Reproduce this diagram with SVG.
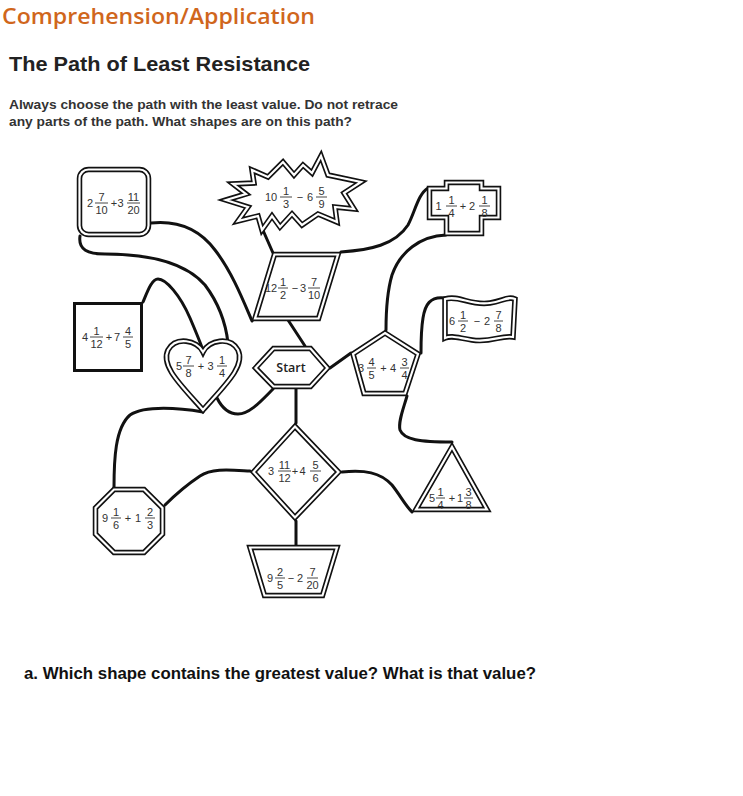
<svg xmlns="http://www.w3.org/2000/svg" xmlns:xlink="http://www.w3.org/1999/xlink" width="743" height="796" viewBox="0 0 743 796">
<style>
.c{fill:none;stroke:#111;stroke-width:3;stroke-linecap:round;stroke-linejoin:round}
.sh{fill:#fff;stroke:#111;stroke-width:5.5;stroke-linejoin:miter;stroke-miterlimit:4}
.sh2{fill:none;stroke:#fff;stroke-width:2.2;stroke-linejoin:miter;stroke-miterlimit:4}
.n{font-family:"Liberation Sans",Arial,sans-serif;font-size:11px;fill:#333;text-anchor:middle}
.b{stroke:#333;stroke-width:0.9}
.h1{font-family:"Open Sans","Noto Sans",sans-serif;font-size:22px;font-weight:600;fill:#d0661c}
.h2{font-family:"Liberation Sans",Arial,sans-serif;font-size:21px;font-weight:bold;fill:#222}
.p{font-family:"Liberation Sans",Arial,sans-serif;font-size:13.5px;font-weight:bold;fill:#333}
.q{font-family:"Liberation Sans",Arial,sans-serif;font-size:16px;font-weight:bold;fill:#111}
.st{font-family:"Open Sans","Liberation Sans",sans-serif;font-size:12.5px;font-weight:600;fill:#222;text-anchor:middle}
</style>
<defs>
<rect id="p-rsq" x="79.5" y="169.5" width="69" height="65" rx="9"/>
<polygon id="p-star" points="226,200 246,194 233,184 254,183 252,170 268,177 283,162 294,175 303,165 312,173 321,156 328,175 361,182 344,193 354,209 335,207 337,222 318,214 302,225 292,214 280,227 272,216 262,230 258,216 238,221 248,207"/>
<polygon id="p-cross" points="446.5,182.5 481.5,182.5 481.5,188.5 498.5,188.5 498.5,217.5 481.5,217.5 481.5,233.5 446.5,233.5 446.5,217.5 429.5,217.5 429.5,188.5 446.5,188.5"/>
<path id="p-flag" d="M445,299 C460,295 470,306 490,303 C503,301 508,296 515,299 L513,337 C500,335 492,343 472,340 C458,338 452,335 445,338 Z"/>
<path id="p-heart" d="M203,352 C197,340 176,336 168,350 C160,366 182,386 203,410 C224,386 246,366 238,350 C230,336 209,340 203,352 Z"/>
<polygon id="p-para" points="274.5,254.5 338,254.5 318.5,318.5 255,318.5"/>
<polygon id="p-hex" points="255.5,368 273.5,348.5 310.5,348.5 327.5,368 310.5,386.5 273.5,386.5"/>
<polygon id="p-pent" points="385,333 418,354 405,393.5 364,393.5 353,354"/>
<polygon id="p-dia" points="295,426.5 338.5,472 295,517.5 253.5,472"/>
<polygon id="p-tri" points="452,447 487,509.5 416,509.5"/>
<polygon id="p-oct" points="114,489.5 144,489.5 162.5,508 162.5,534 144,552.5 114,552.5 95.5,534 95.5,508"/>
<polygon id="p-trap" points="250,547.5 337,547.5 322.5,595.5 264.5,595.5"/>
</defs>
<rect width="743" height="796" fill="#fff"/>
<text class="h1" x="2" y="24" textLength="313" lengthAdjust="spacingAndGlyphs">Comprehension/Application</text>
<text class="h2" x="9" y="71" textLength="301" lengthAdjust="spacingAndGlyphs">The Path of Least Resistance</text>
<text class="p" x="9" y="109" textLength="389" lengthAdjust="spacingAndGlyphs">Always choose the path with the least value. Do not retrace</text>
<text class="p" x="9" y="126" textLength="343" lengthAdjust="spacingAndGlyphs">any parts of the path. What shapes are on this path?</text>
<text class="q" x="24" y="679" textLength="512" lengthAdjust="spacingAndGlyphs">a.  Which shape contains the greatest value? What is that value?</text>

<g id="connectors">
<path class="c" d="M151,223 C180,220 200,230 215,250 C232,272 243,300 252,321"/>
<path class="c" d="M80,236 C78,250 88,254 105,254 C150,254 185,262 205,285 C220,305 226,325 228,343"/>
<path class="c" d="M143,302 C148,290 152,279 158,279 C166,279 180,295 190,318 C196,332 200,342 203,350"/>
<path class="c" d="M262,228 L273,253"/>
<path class="c" d="M341,252 C370,250 395,245 408,225 C415,212 418,194 428,188"/>
<path class="c" d="M288,320 L305,346"/>
<path class="c" d="M330,368 L351,353"/>
<path class="c" d="M446,235 C420,236 400,252 392,275 C387,292 386,312 386,330"/>
<path class="c" d="M445,298 C430,296 425,305 423,318 C421,330 421,342 421,353"/>
<path class="c" d="M407,396 C403,410 398,422 400,430 C404,440 420,442 452,442"/>
<path class="c" d="M342,472 C365,470 380,472 392,485 C400,495 405,505 412,512"/>
<path class="c" d="M296,389 L296,423"/>
<path class="c" d="M217,398 C222,408 228,414 238,414 C250,414 262,400 273,389"/>
<path class="c" d="M203,412 C180,408 145,405 130,415 C115,428 114,460 114,488"/>
<path class="c" d="M250,471 C230,470 212,468 200,476 C185,486 175,495 165,505"/>
<path class="c" d="M296,521 L296,546"/>
</g>

<g id="node-roundsq">
<use xlink:href="#p-rsq" class="sh"/><use xlink:href="#p-rsq" class="sh2"/>
<text class="n" x="90" y="207">2</text><text class="n" x="101.5" y="200.5">7</text><line class="b" x1="95" y1="203" x2="108" y2="203"/><text class="n" x="101.5" y="214">10</text>
<text class="n" x="114" y="207">+</text><text class="n" x="120.5" y="207">3</text>
<text class="n" x="133.5" y="200.5">11</text><line class="b" x1="127" y1="203" x2="140" y2="203"/><text class="n" x="133.5" y="214">20</text>
</g>

<g id="node-star">
<use xlink:href="#p-star" class="sh"/><use xlink:href="#p-star" class="sh2"/>
<text class="n" x="271" y="201">10</text><text class="n" x="286" y="194.5">1</text><line class="b" x1="280" y1="197" x2="292" y2="197"/><text class="n" x="286" y="208">3</text>
<text class="n" x="300" y="201">−</text><text class="n" x="310" y="201">6</text>
<text class="n" x="321.5" y="194.5">5</text><line class="b" x1="316" y1="197" x2="327" y2="197"/><text class="n" x="321.5" y="208">9</text>
</g>

<g id="node-cross">
<use xlink:href="#p-cross" class="sh"/><use xlink:href="#p-cross" class="sh2"/>
<text class="n" x="438.5" y="210">1</text><text class="n" x="451.5" y="203.5">1</text><line class="b" x1="446" y1="206" x2="457" y2="206"/><text class="n" x="451.5" y="217">4</text>
<text class="n" x="463" y="210">+</text><text class="n" x="472" y="210">2</text>
<text class="n" x="484.5" y="203.5">1</text><line class="b" x1="479" y1="206" x2="490" y2="206"/><text class="n" x="484.5" y="217">8</text>
</g>

<g id="node-flag">
<use xlink:href="#p-flag" class="sh"/><use xlink:href="#p-flag" class="sh2"/>
<text class="n" x="452" y="325">6</text><text class="n" x="463" y="318.5">1</text><line class="b" x1="458" y1="321" x2="468" y2="321"/><text class="n" x="463" y="332">2</text>
<text class="n" x="477" y="325">−</text><text class="n" x="487" y="325">2</text>
<text class="n" x="498.5" y="318.5">7</text><line class="b" x1="494" y1="321" x2="503" y2="321"/><text class="n" x="498.5" y="332">8</text>
</g>

<g id="node-square">
<rect x="74.5" y="303.5" width="67" height="67" fill="#fff" stroke="#111" stroke-width="3"/>
<text class="n" x="85" y="341">4</text><text class="n" x="96.5" y="334.5">1</text><line class="b" x1="90" y1="337" x2="103" y2="337"/><text class="n" x="96.5" y="348">12</text>
<text class="n" x="109" y="341">+</text><text class="n" x="117" y="341">7</text>
<text class="n" x="128" y="334.5">4</text><line class="b" x1="123" y1="337" x2="133" y2="337"/><text class="n" x="128" y="348">5</text>
</g>

<g id="node-heart">
<use xlink:href="#p-heart" class="sh"/><use xlink:href="#p-heart" class="sh2"/>
<text class="n" x="179" y="370">5</text><text class="n" x="188.5" y="363.5">7</text><line class="b" x1="183" y1="366" x2="194" y2="366"/><text class="n" x="188.5" y="377">8</text>
<text class="n" x="201" y="370">+</text><text class="n" x="210.5" y="370">3</text>
<text class="n" x="222" y="363.5">1</text><line class="b" x1="217" y1="366" x2="227" y2="366"/><text class="n" x="222" y="377">4</text>
</g>

<g id="node-parallelogram">
<use xlink:href="#p-para" class="sh"/><use xlink:href="#p-para" class="sh2"/>
<text class="n" x="271" y="292">12</text><text class="n" x="283" y="285.5">1</text><line class="b" x1="278" y1="288" x2="288" y2="288"/><text class="n" x="283" y="299">2</text>
<text class="n" x="295" y="292">−</text><text class="n" x="303" y="292">3</text>
<text class="n" x="314" y="285.5">7</text><line class="b" x1="308" y1="288" x2="320" y2="288"/><text class="n" x="314" y="299">10</text>
</g>

<g id="node-start">
<use xlink:href="#p-hex" class="sh"/><use xlink:href="#p-hex" class="sh2"/>
<text class="st" x="291" y="372">Start</text>
</g>

<g id="node-pentagon">
<use xlink:href="#p-pent" class="sh"/><use xlink:href="#p-pent" class="sh2"/>
<text class="n" x="361" y="372">3</text><text class="n" x="371.5" y="365.5">4</text><line class="b" x1="367" y1="368" x2="376" y2="368"/><text class="n" x="371.5" y="379">5</text>
<text class="n" x="383.5" y="372">+</text><text class="n" x="393" y="372">4</text>
<text class="n" x="404.5" y="365.5">3</text><line class="b" x1="400" y1="368" x2="409" y2="368"/><text class="n" x="404.5" y="379">4</text>
</g>

<g id="node-diamond">
<use xlink:href="#p-dia" class="sh"/><use xlink:href="#p-dia" class="sh2"/>
<text class="n" x="271" y="475">3</text><text class="n" x="284.5" y="468.5">11</text><line class="b" x1="278" y1="471" x2="291" y2="471"/><text class="n" x="284.5" y="482">12</text>
<text class="n" x="295" y="475">+</text><text class="n" x="302.5" y="475">4</text>
<text class="n" x="315.5" y="468.5">5</text><line class="b" x1="310" y1="471" x2="321" y2="471"/><text class="n" x="315.5" y="482">6</text>
</g>

<g id="node-triangle">
<use xlink:href="#p-tri" class="sh"/><use xlink:href="#p-tri" class="sh2"/>
<text class="n" x="432" y="502">5</text><text class="n" x="440.5" y="495.5">1</text><line class="b" x1="436" y1="498" x2="445" y2="498"/><text class="n" x="440.5" y="509">4</text>
<text class="n" x="452" y="502">+</text><text class="n" x="460" y="502">1</text>
<text class="n" x="468.5" y="495.5">3</text><line class="b" x1="464" y1="498" x2="473" y2="498"/><text class="n" x="468.5" y="509">8</text>
</g>

<g id="node-octagon">
<use xlink:href="#p-oct" class="sh"/><use xlink:href="#p-oct" class="sh2"/>
<text class="n" x="105" y="522">9</text><text class="n" x="116" y="515.5">1</text><line class="b" x1="111" y1="518" x2="121" y2="518"/><text class="n" x="116" y="529">6</text>
<text class="n" x="128" y="522">+</text><text class="n" x="138" y="522">1</text>
<text class="n" x="150" y="515.5">2</text><line class="b" x1="145" y1="518" x2="155" y2="518"/><text class="n" x="150" y="529">3</text>
</g>

<g id="node-trapezoid">
<use xlink:href="#p-trap" class="sh"/><use xlink:href="#p-trap" class="sh2"/>
<text class="n" x="270" y="582">9</text><text class="n" x="280" y="575.5">2</text><line class="b" x1="275" y1="578" x2="285" y2="578"/><text class="n" x="280" y="589">5</text>
<text class="n" x="291" y="582">−</text><text class="n" x="300" y="582">2</text>
<text class="n" x="312.5" y="575.5">7</text><line class="b" x1="307" y1="578" x2="318" y2="578"/><text class="n" x="312.5" y="589">20</text>
</g>
</svg>
